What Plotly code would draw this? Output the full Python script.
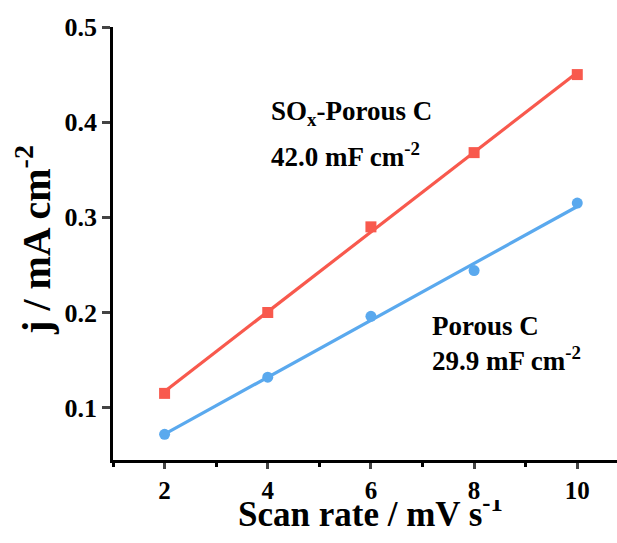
import numpy as np
import plotly.graph_objects as go

scan_rate = [2, 4, 6, 8, 10]
sox_porous_c = [0.115, 0.200, 0.290, 0.368, 0.450]
porous_c = [0.072, 0.132, 0.196, 0.244, 0.315]
x_ticks = [2, 4, 6, 8, 10]
y_ticks = [0.1, 0.2, 0.3, 0.4, 0.5]

RED = "#F8594D"
BLUE = "#5AA9EE"
FONT = "Times New Roman, Liberation Serif, DejaVu Serif, serif"

fig = go.Figure()
for ys, col, sym in [(sox_porous_c, RED, "square"), (porous_c, BLUE, "circle")]:
    k, b = np.polyfit(scan_rate, ys, 1)
    xs = np.array(scan_rate, dtype=float)
    fig.add_trace(go.Scatter(x=xs, y=k * xs + b, mode="lines",
                             line=dict(color=col, width=3.2), showlegend=False, hoverinfo="skip"))
    fig.add_trace(go.Scatter(x=scan_rate, y=ys, mode="markers",
                             marker=dict(color=col, size=11, symbol=sym), showlegend=False))

fig.update_xaxes(range=[1, 10.77], tickvals=x_ticks, ticktext=[f"<b>{v}</b>" for v in x_ticks],
                 ticks="outside", ticklen=6, tickwidth=2.5, automargin=False,
                 showline=True, linewidth=2.5, linecolor="black", showgrid=False, zeroline=False,
                 tickfont=dict(family=FONT, size=25, color="black"),
                 minor=dict(tickvals=[1, 3, 5, 7, 9], ticks="outside", ticklen=4, tickwidth=2.5, tickcolor="black"))
fig.update_yaxes(range=[0.045, 0.5], tickvals=y_ticks, ticktext=[f"<b>{v:.1f}</b>" for v in y_ticks],
                 ticks="outside", ticklen=8, tickwidth=2.5, automargin=False,
                 showline=True, linewidth=2.5, linecolor="black", showgrid=False, zeroline=False,
                 tickfont=dict(family=FONT, size=26, color="black"))

# axis titles
fig.add_annotation(xref="paper", yref="paper", x=0.51, y=-0.132, text="<b>Scan rate / mV s<sup>-1</sup></b>",
                   showarrow=False, xanchor="center", yanchor="middle", height=34, valign="bottom",
                   font=dict(family=FONT, size=35, color="black"))
fig.add_annotation(xref="paper", yref="paper", x=-0.159, y=0.508, text="<b>j / mA cm<sup>-2</sup></b>",
                   showarrow=False, xanchor="center", yanchor="middle", textangle=-90,
                   font=dict(family=FONT, size=40, color="black"))

ann_font = dict(family=FONT, size=27, color="black")
for txt, x, y in [("<b>SO<sub>x</sub>-Porous C</b>", 4.03, 0.41), ("<b>42.0 mF cm<sup>-2</sup></b>", 4.03, 0.365),
                  ("<b>Porous C</b>", 7.15, 0.186), ("<b>29.9 mF cm<sup>-2</sup></b>", 7.15, 0.151)]:
    fig.add_annotation(x=x, y=y, text=txt, showarrow=False, xanchor="left", yanchor="middle", font=ann_font)

fig.update_layout(width=617, height=543, margin=dict(l=113, r=0, t=27, b=83),
                  font=dict(family=FONT), plot_bgcolor="white", paper_bgcolor="white")
fig.write_html("out.html", config={"displayModeBar": False},
               post_script="document.body.style.margin='0';document.body.style.overflow='hidden';")
